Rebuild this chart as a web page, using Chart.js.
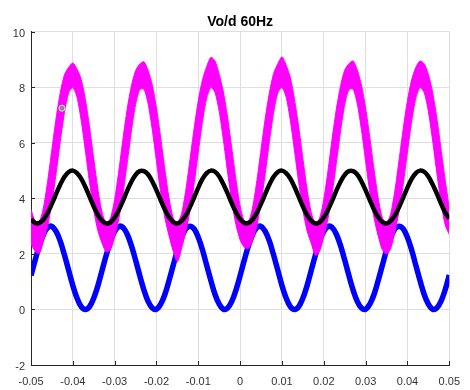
<!DOCTYPE html>
<html>
<head>
<meta charset="utf-8">
<script src="https://cdn.jsdelivr.net/npm/chart.js@4.4.1/dist/chart.umd.min.js"></script>
<style>
  html, body { margin: 0; padding: 0; background: #ffffff; }
  #plot { display: block; }
</style>
</head>
<body>
<canvas id="plot" width="470" height="390"></canvas>
<script>
// Sample instants (s)
const sampleTime = [
  -0.050,-0.049,-0.048,-0.047,-0.046,-0.045,-0.044,-0.043,-0.042,-0.041,
  -0.040,-0.039,-0.038,-0.037,-0.036,-0.035,-0.034,-0.033,-0.032,-0.031,
  -0.030,-0.029,-0.028,-0.027,-0.026,-0.025,-0.024,-0.023,-0.022,-0.021,
  -0.020,-0.019,-0.018,-0.017,-0.016,-0.015,-0.014,-0.013,-0.012,-0.011,
  -0.010,-0.009,-0.008,-0.007,-0.006,-0.005,-0.004,-0.003,-0.002,-0.001,
   0.000, 0.001, 0.002, 0.003, 0.004, 0.005, 0.006, 0.007, 0.008, 0.009,
   0.010, 0.011, 0.012, 0.013, 0.014, 0.015, 0.016, 0.017, 0.018, 0.019,
   0.020, 0.021, 0.022, 0.023, 0.024, 0.025, 0.026, 0.027, 0.028, 0.029,
   0.030, 0.031, 0.032, 0.033, 0.034, 0.035, 0.036, 0.037, 0.038, 0.039,
   0.040, 0.041, 0.042, 0.043, 0.044, 0.045, 0.046, 0.047, 0.048, 0.049,
   0.050
];

// Blue trace (reference signal)
const blueWave = [
  1.22,1.78,2.30,2.71,2.95,2.99,2.81,2.46,1.96,1.41,
  0.86,0.41,0.10,0.00,0.10,0.41,0.86,1.41,1.96,2.46,
  2.81,2.99,2.95,2.71,2.30,1.78,1.22,0.70,0.29,0.05,
  0.01,0.19,0.54,1.04,1.59,2.14,2.59,2.90,3.00,2.90,
  2.59,2.14,1.59,1.04,0.54,0.19,0.01,0.05,0.29,0.70,
  1.22,1.78,2.30,2.71,2.95,2.99,2.81,2.46,1.96,1.41,
  0.86,0.41,0.10,0.00,0.10,0.41,0.86,1.41,1.96,2.46,
  2.81,2.99,2.95,2.71,2.30,1.78,1.22,0.70,0.29,0.05,
  0.01,0.19,0.54,1.04,1.59,2.14,2.59,2.90,3.00,2.90,
  2.59,2.14,1.59,1.04,0.54,0.19,0.01,0.05,0.29,0.70,
  1.24
];

// Black trace (filtered output)
const blackWave = [
  3.25,3.12,3.12,3.24,3.49,3.81,4.16,4.50,4.78,4.95,
  5.00,4.91,4.71,4.41,4.06,3.71,3.40,3.19,3.10,3.14,
  3.31,3.59,3.92,4.28,4.60,4.85,4.98,4.98,4.86,4.61,
  4.29,3.94,3.60,3.32,3.15,3.10,3.19,3.39,3.69,4.04,
  4.39,4.70,4.91,5.00,4.96,4.79,4.51,4.18,3.82,3.50,
  3.25,3.12,3.12,3.24,3.49,3.81,4.16,4.50,4.78,4.95,
  5.00,4.91,4.71,4.41,4.06,3.71,3.40,3.19,3.10,3.14,
  3.31,3.59,3.92,4.28,4.60,4.85,4.98,4.98,4.86,4.61,
  4.29,3.94,3.60,3.32,3.15,3.10,3.19,3.39,3.69,4.04,
  4.39,4.70,4.91,5.00,4.96,4.79,4.51,4.18,3.82,3.50,
  3.28
];

// Magenta trace (switching output): upper and lower edge of the ripple band
const magentaUpper = [
  3.60,3.18,3.17,3.69,4.64,5.77,6.89,7.81,8.45,8.72,
  8.88,8.66,8.29,7.56,6.57,5.43,4.33,3.49,3.11,3.29,
  3.97,5.00,6.16,7.22,8.05,8.60,8.84,8.92,8.61,8.08,
  7.25,6.20,5.05,4.01,3.30,3.11,3.46,4.29,5.39,6.53,
  7.53,8.27,8.75,9.08,8.95,8.47,7.83,6.92,5.81,4.68,
  3.72,3.18,3.17,3.69,4.64,5.77,6.89,7.81,8.50,8.85,
  9.10,8.80,8.35,7.56,6.57,5.43,4.33,3.49,3.11,3.29,
  3.97,5.00,6.16,7.22,8.05,8.62,8.85,8.95,8.63,8.08,
  7.25,6.20,5.05,4.01,3.30,3.11,3.46,4.29,5.39,6.53,
  7.53,8.27,8.72,8.95,8.85,8.47,7.83,6.92,5.81,4.68,
  3.65
];
const magentaLower = [
  2.35,2.10,2.02,2.49,3.02,3.85,4.90,6.05,7.09,7.80,
  7.99,7.64,6.81,5.71,4.57,3.57,2.83,2.38,2.07,2.15,
  2.63,3.27,4.18,5.28,6.42,7.38,7.92,7.93,7.40,6.47,
  5.33,4.21,3.30,2.65,2.10,1.72,2.20,2.81,3.54,4.53,
  5.67,6.77,7.61,7.99,7.81,7.13,6.10,4.94,3.88,3.05,
  2.50,2.24,2.20,2.49,3.02,3.85,4.90,6.05,7.09,7.80,
  7.99,7.64,6.81,5.71,4.57,3.57,2.83,2.38,1.95,2.10,
  2.63,3.27,4.18,5.28,6.42,7.38,7.92,7.93,7.40,6.47,
  5.33,4.21,3.30,2.65,2.15,2.00,2.20,2.81,3.54,4.53,
  5.67,6.77,7.61,7.99,7.81,7.13,6.10,4.94,3.88,3.05,
  2.70
];

// Data-tip marker
const markerTime = [-0.0426];
const markerValue = [7.25];

// Axis ticks
const xTicks = [-0.05,-0.04,-0.03,-0.02,-0.01,0,0.01,0.02,0.03,0.04,0.05];
const xTickLabels = ['-0.05','-0.04','-0.03','-0.02','-0.01','0','0.01','0.02','0.03','0.04','0.05'];
const yTicks = [-2,0,2,4,6,8,10];
const yTickLabels = ['-2','0','2','4','6','8','10'];

const toPoints = (xs, ys) => ys.map((v, i) => ({ x: xs[i], y: v }));

const FONT = '"Liberation Sans", Arial, Helvetica, sans-serif';
const AXIS = '#262626';
const GRID = '#dfdfdf';

// Short tick marks pointing into the axes
const innerTicks = {
  id: 'innerTicks',
  afterDatasetsDraw(chart) {
    const { ctx, chartArea: a, scales } = chart;
    ctx.save();
    ctx.strokeStyle = AXIS;
    ctx.lineWidth = 1;
    ctx.beginPath();
    xTicks.forEach(v => {
      const px = Math.round(scales.x.getPixelForValue(v)) + 0.5;
      ctx.moveTo(px, a.bottom);
      ctx.lineTo(px, a.bottom - 4);
    });
    yTicks.forEach(v => {
      const py = Math.round(scales.y.getPixelForValue(v)) + 0.5;
      ctx.moveTo(a.left, py);
      ctx.lineTo(a.left + 4, py);
    });
    ctx.stroke();
    ctx.restore();
  }
};

new Chart(document.getElementById('plot'), {
  type: 'line',
  data: {
    datasets: [
      {
        label: 'marker',
        data: toPoints(markerTime, markerValue),
        showLine: false,
        pointRadius: 3,
        pointBackgroundColor: '#8a8a8a',
        pointBorderColor: '#e4e4e4',
        pointBorderWidth: 1
      },
      {
        label: 'black',
        data: toPoints(sampleTime, blackWave),
        borderColor: '#000000',
        borderWidth: 4.5,
        pointRadius: 0,
        tension: 0.35,
        fill: false,
        clip: 0
      },
      {
        label: 'magenta upper',
        data: toPoints(sampleTime, magentaUpper),
        borderColor: '#ff00ff',
        backgroundColor: '#ff00ff',
        borderWidth: 1,
        pointRadius: 0,
        tension: 0.25,
        fill: '+1',
        clip: 0
      },
      {
        label: 'magenta lower',
        data: toPoints(sampleTime, magentaLower),
        borderColor: '#ff00ff',
        borderWidth: 1,
        pointRadius: 0,
        tension: 0.25,
        fill: false,
        clip: 0
      },
      {
        label: 'blue',
        data: toPoints(sampleTime, blueWave),
        borderColor: '#0000ff',
        borderWidth: 5.5,
        pointRadius: 0,
        tension: 0.35,
        fill: false,
        clip: 0
      }
    ]
  },
  plugins: [innerTicks],
  options: {
    responsive: false,
    animation: false,
    events: [],
    layout: { padding: { left: 0, right: 17, top: 0, bottom: 0 } },
    plugins: {
      legend: { display: false },
      tooltip: { enabled: false },
      title: {
        display: true,
        fullSize: false,
        text: 'Vo/d 60Hz',
        color: '#000000',
        font: { family: FONT, size: 14, weight: 'bold' },
        padding: { top: 14, bottom: 1 }
      }
    },
    scales: {
      x: {
        type: 'linear',
        min: -0.05,
        max: 0.05,
        afterFit: s => { s.height = 25; },
        afterBuildTicks: s => { s.ticks = xTicks.map(v => ({ value: v })); },
        ticks: {
          autoSkip: false,
          maxRotation: 0,
          padding: 10,
          color: '#333333',
          font: { family: FONT, size: 11 },
          callback: (v, i) => xTickLabels[i]
        },
        grid: { color: GRID, lineWidth: 1, drawTicks: false },
        border: { color: AXIS, width: 1 }
      },
      y: {
        type: 'linear',
        min: -2,
        max: 10,
        afterFit: s => { s.width = 31; },
        afterBuildTicks: s => { s.ticks = yTicks.map(v => ({ value: v })); },
        ticks: {
          autoSkip: false,
          padding: 6,
          labelOffset: 2,
          color: '#333333',
          font: { family: FONT, size: 11 },
          callback: (v, i) => yTickLabels[i]
        },
        grid: { color: GRID, lineWidth: 1, drawTicks: false },
        border: { color: AXIS, width: 1 }
      }
    }
  }
});
</script>
</body>
</html>
